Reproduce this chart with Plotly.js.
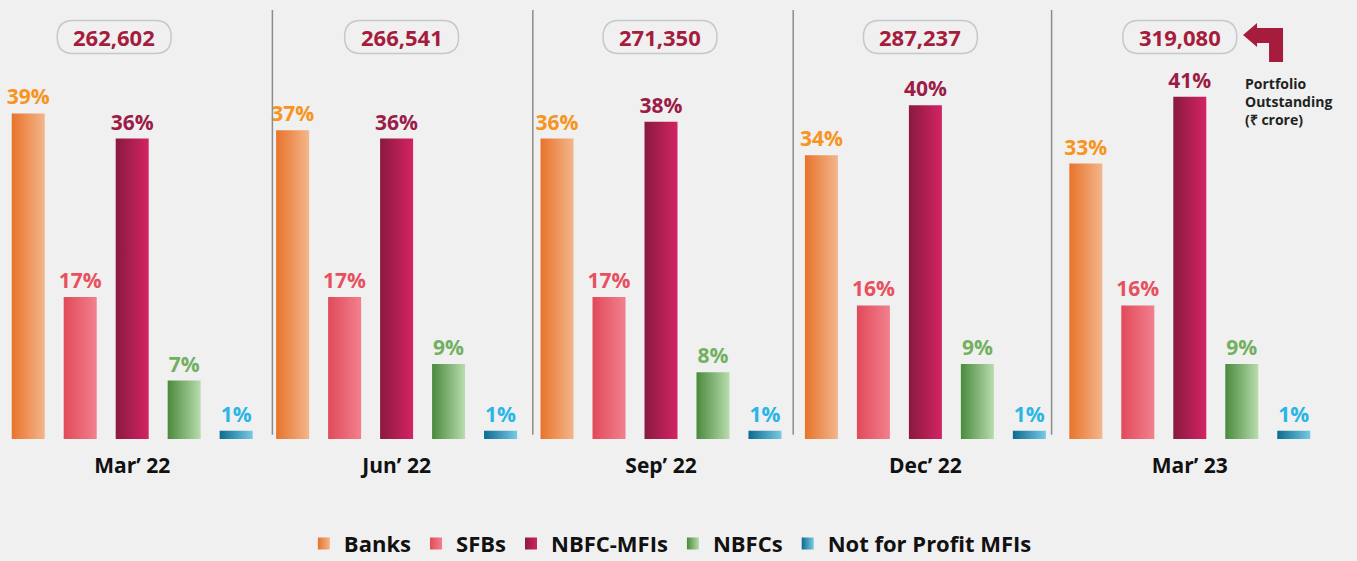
<!DOCTYPE html>
<html>
<head>
<meta charset="utf-8">
<script src="https://cdn.plot.ly/plotly-3.0.1.min.js"></script>
<style>
html,body{margin:0;padding:0;background:#f0f0f0;}
#chart{width:1357px;height:561px;}
</style>
</head>
<body>
<div id="chart"></div>
<script>
// ---- data ----
const periods = ["Mar\u2019 22", "Jun\u2019 22", "Sep\u2019 22", "Dec\u2019 22", "Mar\u2019 23"];
const totals = [262602, 266541, 271350, 287237, 319080];
const seriesNames = ["Banks", "SFBs", "NBFC-MFIs", "NBFCs", "Not for Profit MFIs"];
const banks = [39, 37, 36, 34, 33];
const sfbs = [17, 17, 17, 16, 16];
const nbfcMfis = [36, 36, 38, 40, 41];
const nbfcs = [7, 9, 8, 9, 9];
const notForProfit = [1, 1, 1, 1, 1];

// ---- styling ----
const values = [banks, sfbs, nbfcMfis, nbfcs, notForProfit];
const barColors = ["#ee8a45", "#e95c6b", "#b01d52", "#6fa763", "#2a8fb8"];
const gradStops = [
  ["#e8732a", "#f3b68c"],
  ["#e14a5a", "#f2808e"],
  ["#881a40", "#d42363"],
  ["#4a8a3c", "#b8dcae"],
  ["#0e6b90", "#76cae4"]
];
const textColors = ["#f7941d", "#e8505f", "#9c1c48", "#72b061", "#29b6e6"];
const crimson = "#a51c3c";
const FONT = "Open Sans, Liberation Sans, sans-serif";

const traces = seriesNames.map((name, i) => ({
  type: "bar",
  name: name,
  x: periods,
  y: values[i],
  text: values[i].map(v => v + "%"),
  textposition: "outside",
  constraintext: "none",
  cliponaxis: false,
  textfont: {family: FONT, size: 21, weight: 700, color: textColors[i]},
  marker: {color: barColors[i], line: {width: 0}},
  hoverinfo: "x+y+name"
}));

const shapes = [];
const annotations = [];

// vertical separators between periods
const sepShift = [8, 4, 0, -6];
for (let i = 0; i < periods.length - 1; i++) {
  shapes.push({
    type: "line", xref: "x", yref: "paper",
    xsizemode: "pixel", xanchor: i + 0.5,
    x0: sepShift[i], x1: sepShift[i], y0: 0.01, y1: 1.024,
    line: {color: "#8c8c8c", width: 1.5}
  });
}

// rounded total boxes
const boxShift = [-18, 5, -1, -5, -10];
const W = 114, H = 33, R = 16;
function pill(dx) {
  const l = dx - W / 2, r = dx + W / 2, t = H / 2, b = -H / 2;
  return `M${l + R},${t} L${r - R},${t} Q${r},${t} ${r},0 Q${r},${b} ${r - R},${b} ` +
         `L${l + R},${b} Q${l},${b} ${l},0 Q${l},${t} ${l + R},${t} Z`;
}
const boxY = 0.9594;
periods.forEach((p, i) => {
  shapes.push({
    type: "path", xref: "x", yref: "paper",
    xsizemode: "pixel", ysizemode: "pixel",
    xanchor: i, yanchor: boxY,
    path: pill(boxShift[i]),
    line: {color: "#c4c8cc", width: 1.5},
    fillcolor: "rgba(0,0,0,0)"
  });
  annotations.push({
    x: i, y: boxY, xref: "x", yref: "paper", xshift: boxShift[i],
    text: totals[i].toLocaleString("en-US"),
    showarrow: false, xanchor: "center", yanchor: "middle",
    font: {family: FONT, size: 22, weight: 700, color: crimson}
  });
});

// bent arrow pointing to last total
shapes.push({
  type: "path", xref: "paper", yref: "paper",
  xsizemode: "pixel", ysizemode: "pixel",
  xanchor: 0.9554, yanchor: 0.9642,
  path: "M-20,0 L-6,12 L-6,7 L20,7 L20,-27 L6,-27 L6,-8 L-6,-8 L-6,-12 Z",
  fillcolor: crimson, line: {width: 0}
});
annotations.push({
  x: 0.9405, y: 0.875, xref: "paper", yref: "paper",
  xanchor: "left", yanchor: "top", align: "left", showarrow: false,
  text: "Portfolio<br>Outstanding<br>(\u20b9 crore)",
  font: {family: FONT, size: 14, weight: 700, color: "#222222"}
});

const layout = {
  width: 1357, height: 561,
  margin: {l: 0, r: 35, t: 20, b: 122},
  paper_bgcolor: "#f0f0f0",
  plot_bgcolor: "#f0f0f0",
  barmode: "group",
  bargap: 0.017,
  bargroupgap: 0.365,
  showlegend: true,
  legend: {
    orientation: "h", xref: "container", yref: "container",
    x: 0.494, xanchor: "center", y: 0.031, yanchor: "middle",
    font: {family: FONT, size: 22, weight: 700, color: "#111111"},
    bgcolor: "rgba(0,0,0,0)", traceorder: "normal"
  },
  xaxis: {
    type: "category", range: [-0.5, 4.5], showgrid: false, zeroline: false,
    showline: false, ticks: "", ticklabelstandoff: 12, automargin: false,
    tickfont: {family: FONT, size: 21, weight: 700, color: "#111111"}
  },
  yaxis: {
    range: [0, 50.2], visible: false, showgrid: false, zeroline: false, fixedrange: true
  },
  shapes: shapes,
  annotations: annotations,
  font: {family: FONT}
};

function applyGradients(gd) {
  const svg = gd.querySelector("svg.main-svg");
  const ns = "http://www.w3.org/2000/svg";
  let defs = svg.querySelector("defs");
  if (!defs) { defs = document.createElementNS(ns, "defs"); svg.insertBefore(defs, svg.firstChild); }
  gradStops.forEach((st, i) => {
    const g = document.createElementNS(ns, "linearGradient");
    g.setAttribute("id", "bargrad" + i);
    g.setAttribute("x1", "0"); g.setAttribute("y1", "0");
    g.setAttribute("x2", "1"); g.setAttribute("y2", "0");
    [[0, st[0]], [1, st[1]]].forEach(([o, c]) => {
      const s = document.createElementNS(ns, "stop");
      s.setAttribute("offset", o); s.setAttribute("stop-color", c);
      g.appendChild(s);
    });
    defs.appendChild(g);
  });
  gd.querySelectorAll(".barlayer .trace").forEach((tr, i) => {
    tr.querySelectorAll(".point path").forEach(p => { p.style.fill = "url(#bargrad" + i + ")"; });
  });
  gd.querySelectorAll(".legend .traces").forEach((tr, i) => {
    tr.querySelectorAll(".legendpoints path").forEach(p => { p.style.fill = "url(#bargrad" + i + ")"; });
  });
}

Plotly.newPlot("chart", traces, layout, {displayModeBar: false, staticPlot: true})
  .then(applyGradients);
</script>
</body>
</html>
